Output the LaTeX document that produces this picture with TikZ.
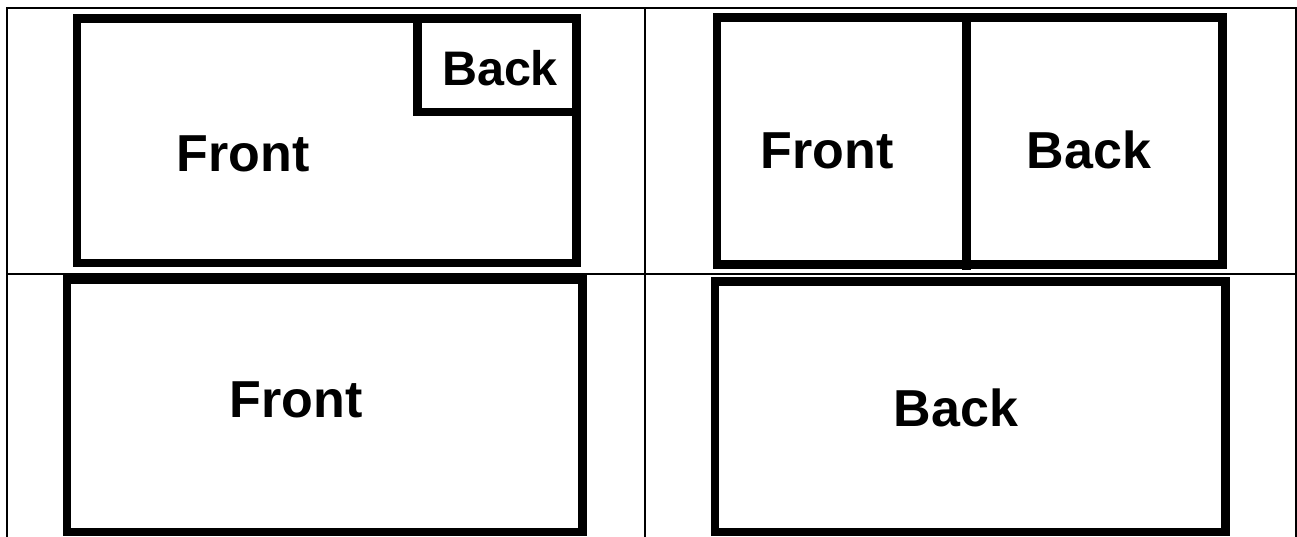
\documentclass[tikz,border=0pt]{standalone}
\usepackage{fontspec}
\setmainfont{Liberation Sans}
\begin{document}
\begin{tikzpicture}[x=1pt,y=-1pt,
  grid/.style={line width=2pt,black},
  card/.style={line width=8.5pt,black},
  lbl/.style={inner sep=0pt,anchor=base,font=\fontsize{52}{60}\selectfont\bfseries},
  lblsmall/.style={inner sep=0pt,anchor=base,font=\fontsize{48.5}{56}\selectfont\bfseries}]
\useasboundingbox (0,0) rectangle (1297,536);
% table grid
\draw[grid] (7,540) -- (7,7.5) -- (1296,7.5) -- (1296,540);
\draw[grid] (7,273.7) -- (1296,273.7);
\draw[grid] (645,7.5) -- (645,540);
% panel 1
\draw[card] (77,18.5) rectangle (576.5,263);
\draw[card] (417.7,18.5) |- (576.5,112);
\node[lbl] (f1) at (243,171.7) {Front};
\node[lblsmall] (b1) at (500,85) {Back};
% panel 2
\draw[card] (717,17.5) rectangle (1222.3,264.5);
\draw[card] (966.7,17.5) -- (966.7,270);
\node[lbl] (f2) at (827,168.3) {Front};
\node[lbl] (b2) at (1089,168.3) {Back};
% panel 3
\draw[card] (67,279.3) rectangle (582.5,532);
\node[lbl] (f3) at (296,417) {Front};
% panel 4
\draw[card] (715,281.7) rectangle (1225.7,532);
\node[lbl] (b4) at (956,426) {Back};
\end{tikzpicture}
\end{document}
